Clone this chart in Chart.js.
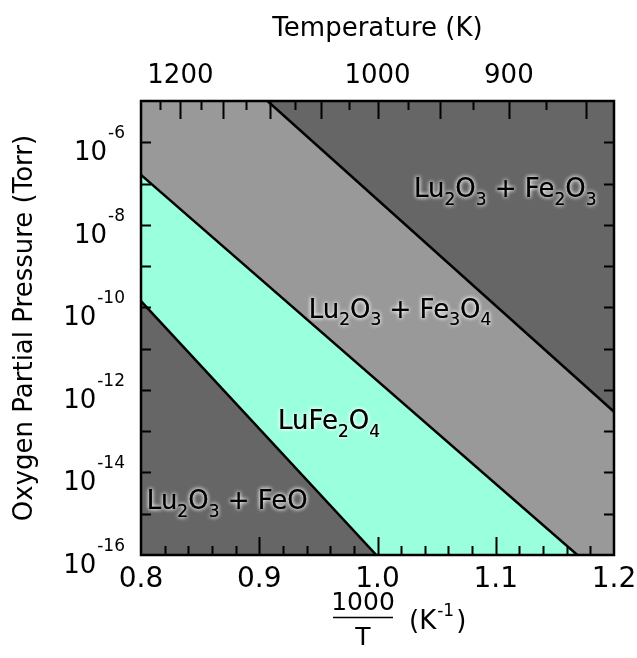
<!DOCTYPE html>
<html>
<head>
<meta charset="utf-8">
<title>Lu-Fe-O stability diagram</title>
<script src="https://cdn.jsdelivr.net/npm/chart.js"></script>
<style>
  body { margin: 0; background: #ffffff; }
  #wrap { position: relative; width: 637px; height: 658px; }
</style>
</head>
<body>
<div id="wrap"><canvas id="phaseChart"></canvas></div>
<script>
// tick labels
const xTickLabels = ['0.8', '0.9', '1.0', '1.1', '1.2'];
const tempTickLabels = ['1200', '1000', '900'];
const pressureTickExponents = [-16, -14, -12, -10, -8, -6];

// phase boundaries: 1000/T (1/K) and log10 of pO2 (Torr)
const hematiteLineInvT = [0.907, 1.2];
const hematiteLineLogP = [-5.0, -12.53];
const magnetiteLineInvT = [0.8, 1.169];
const magnetiteLineLogP = [-6.79, -16.0];
const wustiteLineInvT = [0.8, 0.999];
const wustiteLineLogP = [-9.85, -16.0];

// phase fields (underscore = subscript digit)
const regionNames = ['Lu_2O_3 + Fe_2O_3', 'Lu_2O_3 + Fe_3O_4', 'LuFe_2O_4', 'Lu_2O_3 + FeO'];

const FONT = "'DejaVu Sans', sans-serif";
const DARK = '#666666';
const LIGHT = '#999999';
const AQUA = '#99FFDD';

function toPoints(xs, logs) {
    return xs.map((x, i) => ({ x: x, y: Math.pow(10, logs[i]) }));
}

// text with subscripts and a pale halo
function drawChem(ctx, text, cx, cy, size) {
    const parts = [];
    for (let i = 0; i < text.length; i++) {
        if (text[i] === '_') {
            parts.push({ t: text[i + 1], sub: true });
            i++;
        } else if (parts.length && !parts[parts.length - 1].sub) {
            parts[parts.length - 1].t += text[i];
        } else {
            parts.push({ t: text[i], sub: false });
        }
    }
    const subSize = Math.round(size * 0.66);
    let total = 0;
    parts.forEach(p => {
        ctx.font = (p.sub ? subSize : size) + 'px ' + FONT;
        p.w = ctx.measureText(p.t).width;
        total += p.w;
    });
    let x = cx - total / 2;
    const base = cy + size * 0.36;
    ctx.textAlign = 'left';
    ctx.textBaseline = 'alphabetic';
    parts.forEach(p => {
        ctx.font = (p.sub ? subSize : size) + 'px ' + FONT;
        const y = p.sub ? base + size * 0.3 : base;
        ctx.save();
        ctx.shadowColor = 'rgba(255,255,255,0.9)';
        ctx.shadowBlur = 4;
        ctx.fillStyle = '#000';
        ctx.fillText(p.t, x, y);
        ctx.fillText(p.t, x, y);
        ctx.restore();
        x += p.w;
    });
}

const framePlugin = {
    id: 'frame',
    beforeDatasetsDraw(chart) {
        const { ctx, chartArea: a } = chart;
        ctx.save();
        ctx.fillStyle = LIGHT;
        ctx.fillRect(a.left, a.top, a.right - a.left, a.bottom - a.top);
        ctx.restore();
    },
    afterDatasetsDraw(chart) {
        const { ctx, chartArea: a, scales } = chart;
        const x = scales.x, y = scales.y;
        ctx.save();
        ctx.strokeStyle = '#000';
        ctx.lineWidth = 2;
        ctx.beginPath();
        // bottom ticks every 0.02, long at each 0.1
        for (let i = 41; i < 60; i++) {
            const px = Math.round(x.getPixelForValue(i / 50)) + 0.5;
            const len = (i % 5 === 0) ? 18 : 9;
            ctx.moveTo(px, a.bottom);
            ctx.lineTo(px, a.bottom - len);
        }
        // top ticks every 25 K, long at each 50 K
        for (let t = 1225; t >= 850; t -= 25) {
            const px = Math.round(x.getPixelForValue(1000 / t)) + 0.5;
            const len = (t % 50 === 0) ? 18 : 9;
            ctx.moveTo(px, a.top);
            ctx.lineTo(px, a.top + len);
        }
        // left and right ticks each decade
        for (let e = -15; e <= -6; e++) {
            const py = Math.round(y.getPixelForValue(Math.pow(10, e))) + 0.5;
            ctx.moveTo(a.left, py);
            ctx.lineTo(a.left + 10, py);
            ctx.moveTo(a.right, py);
            ctx.lineTo(a.right - 10, py);
        }
        ctx.stroke();
        ctx.lineWidth = 2.5;
        ctx.strokeRect(a.left, a.top, a.right - a.left, a.bottom - a.top);

        // y tick labels: 10 with raised exponent
        ctx.fillStyle = '#000';
        ctx.textAlign = 'right';
        ctx.textBaseline = 'alphabetic';
        pressureTickExponents.forEach(e => {
            const py = y.getPixelForValue(Math.pow(10, e));
            const right = a.left - 16;
            ctx.font = '17px ' + FONT;
            const ew = ctx.measureText(String(e)).width;
            ctx.fillText(String(e), right, py - 4);
            ctx.font = '26px ' + FONT;
            ctx.fillText('10', right - ew - 1, py + 18);
        });

        // phase field names
        const spots = [[1.108, -7.11], [1.019, -10.02], [0.959, -12.73], [0.873, -14.67]];
        regionNames.forEach((name, i) => {
            drawChem(ctx, name, x.getPixelForValue(spots[i][0]),
                y.getPixelForValue(Math.pow(10, spots[i][1])), 26);
        });

        // x title: 1000/T (K^-1)
        const cx = a.left + 222;
        ctx.fillStyle = '#000';
        ctx.font = '25px ' + FONT;
        ctx.textAlign = 'center';
        ctx.fillText('1000', cx, a.bottom + 55);
        ctx.fillText('T', cx, a.bottom + 90);
        ctx.lineWidth = 1.5;
        ctx.beginPath();
        ctx.moveTo(cx - 30, a.bottom + 62.5);
        ctx.lineTo(cx + 30, a.bottom + 62.5);
        ctx.stroke();
        ctx.textAlign = 'left';
        ctx.font = '26px ' + FONT;
        ctx.fillText('(K', cx + 46, a.bottom + 74);
        const w = ctx.measureText('(K').width;
        ctx.font = '17px ' + FONT;
        ctx.fillText('-1', cx + 46 + w + 1, a.bottom + 61);
        const w2 = ctx.measureText('-1').width;
        ctx.font = '26px ' + FONT;
        ctx.fillText(')', cx + 46 + w + w2 + 3, a.bottom + 74);
        ctx.restore();
    }
};

const ctx = document.getElementById('phaseChart').getContext('2d');
new Chart(ctx, {
    type: 'line',
    data: {
        datasets: [
            {
                label: 'FeO / LuFe2O4',
                data: toPoints(wustiteLineInvT, wustiteLineLogP),
                borderColor: '#000',
                borderWidth: 2.5,
                backgroundColor: DARK,
                fill: 'start',
                pointRadius: 0
            },
            {
                label: 'LuFe2O4 / Fe3O4',
                data: toPoints(magnetiteLineInvT, magnetiteLineLogP),
                borderColor: '#000',
                borderWidth: 2.5,
                backgroundColor: AQUA,
                fill: 'start',
                pointRadius: 0
            },
            {
                label: 'Fe3O4 / Fe2O3',
                data: toPoints(hematiteLineInvT, hematiteLineLogP),
                borderColor: '#000',
                borderWidth: 2.5,
                backgroundColor: DARK,
                fill: 'end',
                pointRadius: 0
            }
        ]
    },
    options: {
        responsive: true,
        maintainAspectRatio: false,
        animation: false,
        layout: { padding: { right: 23, left: 0, top: 0, bottom: 0 } },
        plugins: {
            legend: { display: false },
            tooltip: { enabled: false }
        },
        scales: {
            x: {
                type: 'linear',
                position: 'bottom',
                min: 0.8,
                max: 1.2,
                afterBuildTicks: s => { s.ticks = xTickLabels.map(t => ({ value: parseFloat(t) })); },
                afterFit: s => { s.height = 103; s.paddingLeft = 0; s.paddingRight = 0; },
                ticks: {
                    callback: (v, i) => xTickLabels[i],
                    font: { family: FONT, size: 28 },
                    color: '#000',
                    padding: 8,
                    maxRotation: 0,
                    autoSkip: false
                },
                grid: { display: false, drawTicks: false },
                border: { display: false }
            },
            xTop: {
                type: 'linear',
                position: 'top',
                min: 0.8,
                max: 1.2,
                afterBuildTicks: s => { s.ticks = tempTickLabels.map(t => ({ value: 1000 / Number(t) })); },
                afterFit: s => { s.height = 101; s.paddingLeft = 0; s.paddingRight = 0; },
                ticks: {
                    callback: (v, i) => tempTickLabels[i],
                    font: { family: FONT, size: 26 },
                    color: '#000',
                    padding: 9,
                    maxRotation: 0,
                    autoSkip: false
                },
                title: {
                    display: true,
                    text: 'Temperature (K)',
                    font: { family: FONT, size: 26 },
                    color: '#000',
                    padding: { top: 14, bottom: 0 }
                },
                grid: { display: false, drawTicks: false },
                border: { display: false }
            },
            y: {
                type: 'logarithmic',
                min: 1e-16,
                max: 1e-5,
                afterBuildTicks: s => { s.ticks = pressureTickExponents.map(e => ({ value: Math.pow(10, e) })); },
                afterFit: s => { s.width = 141; s.paddingTop = 0; s.paddingBottom = 0; },
                ticks: { display: false },
                title: {
                    display: true,
                    text: 'Oxygen Partial Pressure (Torr)',
                    font: { family: FONT, size: 26 },
                    color: '#000',
                    padding: { top: 10, bottom: 0 }
                },
                grid: { display: false, drawTicks: false },
                border: { display: false }
            }
        }
    },
    plugins: [framePlugin]
});
</script>
</body>
</html>
